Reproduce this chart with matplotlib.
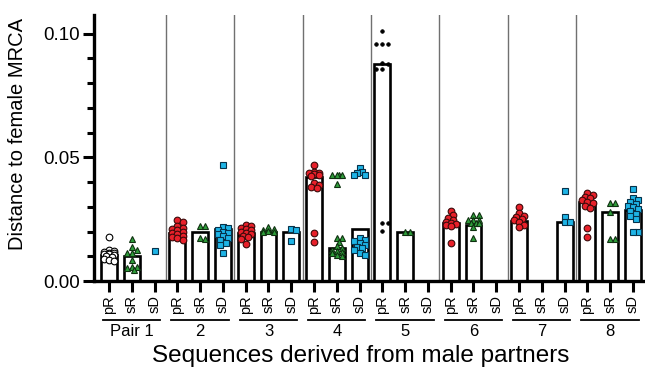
import numpy as np
import matplotlib
matplotlib.use("Agg")
import matplotlib.pyplot as plt
from matplotlib.ticker import MultipleLocator
import matplotlib.transforms as mtransforms

plt.rcParams['font.family'] = ['Liberation Sans', 'DejaVu Sans']

groups = ["Pair 1", "2", "3", "4", "5", "6", "7", "8"]
subtypes = ["pR", "sR", "sD"]

pR = [
    [0.0177, 0.0125, 0.0122, 0.0118, 0.0115, 0.0112, 0.0110, 0.0108, 0.0105, 0.0100, 0.0095, 0.0090, 0.0085, 0.0080],
    [0.0246, 0.0240, 0.0222, 0.0214, 0.0210, 0.0205, 0.0200, 0.0196, 0.0190, 0.0182, 0.0178, 0.0172, 0.0165],
    [0.0226, 0.0222, 0.0214, 0.0210, 0.0205, 0.0198, 0.0194, 0.0188, 0.0180, 0.0177, 0.0170, 0.0150],
    [0.0468, 0.0440, 0.0437, 0.0435, 0.0433, 0.0430, 0.0423, 0.0395, 0.0387, 0.0378, 0.0375, 0.0194, 0.0157],
    [0.1012, 0.0956, 0.0956, 0.0956, 0.0883, 0.0875, 0.0855, 0.0855, 0.0234, 0.0234, 0.0202],
    [0.0282, 0.0266, 0.0254, 0.0246, 0.0238, 0.0234, 0.0230, 0.0226, 0.0222, 0.0153],
    [0.0298, 0.0274, 0.0262, 0.0258, 0.0250, 0.0246, 0.0238, 0.0226, 0.0218],
    [0.0355, 0.0347, 0.0340, 0.0335, 0.0328, 0.0320, 0.0315, 0.0305, 0.0294, 0.0214, 0.0177],
]
sR = [
    [0.0170, 0.0137, 0.0125, 0.0113, 0.0113, 0.0085, 0.0058, 0.0056, 0.0054, 0.0044],
    [0.0222, 0.0222, 0.0172, 0.0168],
    [0.0218, 0.0212, 0.0206, 0.0204, 0.0200, 0.0198],
    [0.0427, 0.0427, 0.0427, 0.0427, 0.0390, 0.0173, 0.0173, 0.0157, 0.0140, 0.0133,
     0.0127, 0.0122, 0.0117, 0.0112, 0.0106, 0.0100],
    [0.0200, 0.0200],
    [0.0266, 0.0266, 0.0246, 0.0246, 0.0246, 0.0234, 0.0234, 0.0234, 0.0218, 0.0173],
    [],
    [0.0315, 0.0315, 0.0278, 0.0169, 0.0169],
]
sD = [
    [0.0121],
    [0.0468, 0.0218, 0.0214, 0.0205, 0.0200, 0.0195, 0.0190, 0.0180, 0.0172, 0.0165, 0.0155, 0.0145, 0.0113],
    [0.0210, 0.0206, 0.0160],
    [0.0456, 0.0440, 0.0435, 0.0430, 0.0427, 0.0173, 0.0165, 0.0160, 0.0152, 0.0145,
     0.0138, 0.0132, 0.0125, 0.0115, 0.0105],
    [],
    [],
    [0.0363, 0.0258, 0.0238, 0.0238],
    [0.0371, 0.0335, 0.0327, 0.0320, 0.0312, 0.0305, 0.0298, 0.0290, 0.0282, 0.0272,
     0.0262, 0.0250, 0.0198, 0.0198],
]

# bar heights (medians)
pR_bar = [0.0106, 0.0192, 0.0194, 0.0421, 0.0877, 0.0234, 0.0244, 0.0319]
sR_bar = [0.0103, 0.0198, 0.0200, 0.0133, 0.0198, 0.0226, np.nan, 0.0278]
sD_bar = [np.nan, 0.0212, 0.0200, 0.0212, np.nan, np.nan, 0.0240, 0.0286]

W, H = 645, 373
fig = plt.figure(figsize=(W / 100, H / 100), dpi=100)
ax_l, ax_b, ax_r, ax_t = 94, 281, 645, 15
ax = fig.add_axes([ax_l / W, (H - ax_b) / H, (ax_r - ax_l) / W, (ax_b - ax_t) / H])

xmin, xmax = -0.66, 23.53
ymin, ymax = 0.0, 0.1075
ax.set_xlim(xmin, xmax)
ax.set_ylim(ymin, ymax)
xs = (ax_r - ax_l) / (xmax - xmin)
ys = (ax_b - ax_t) / (ymax - ymin)

red = "#E8202A"
green = "#2E9E3A"
blue = "#1EB4E6"


def swarm(vals, d_px, maxoff=0.30):
    order = np.argsort(vals)[::-1]
    placed = []
    offs = np.zeros(len(vals))
    step = d_px * 0.6 / xs
    for i in order:
        y = vals[i] * ys
        cands = [0.0]
        for k in range(1, 12):
            cands += [k * step, -k * step]
        cands = [c for c in cands if abs(c) <= maxoff]
        best = None
        bestpen = None
        for c in cands:
            pen = 0.0
            for (px, py) in placed:
                dist = np.hypot((c - px) * xs, y - py)
                if dist < d_px:
                    pen += d_px - dist
            if pen == 0.0:
                best = c
                break
            if bestpen is None or pen < bestpen:
                bestpen, best = pen, c
        offs[i] = best
        placed.append((best, y))
    return offs


series = [pR, sR, sD]
bars = [pR_bar, sR_bar, sD_bar]
styles = [
    dict(marker="o", mfc=red, mec="#3a0a0a", ms=4.8, mew=0.8),
    dict(marker="^", mfc=green, mec="#0f3010", ms=4.8, mew=0.8),
    dict(marker="s", mfc=blue, mec="#06324a", ms=4.5, mew=0.8),
]

positions = []
for gi in range(len(groups)):
    for si in range(3):
        x = gi * 3 + si
        positions.append(x)
        h = bars[si][gi]
        if not np.isnan(h):
            ax.bar(x, h, width=0.7, color="white", edgecolor="black", linewidth=1.9, zorder=2)
        vals = np.array(series[si][gi], dtype=float)
        if len(vals) == 0:
            continue
        st = dict(styles[si])
        d_px = 4.3
        if si == 0 and gi == 0:
            st.update(mfc="white", mec="black")
        if si == 0 and gi == 4:
            st = dict(marker="o", mfc="black", mec="black", ms=2.6, mew=0.5)
            d_px = 5.0
        offs = swarm(vals, d_px)
        ax.plot(x + offs, vals, linestyle="none", zorder=3, clip_on=False, **st)

# group separators
for gi in range(1, len(groups)):
    ax.axvline(gi * 3 - 0.5, color="#707070", lw=1.0, zorder=1)

ax.spines["top"].set_visible(False)
ax.spines["right"].set_visible(False)
ax.spines["left"].set_linewidth(2.4)
ax.spines["bottom"].set_linewidth(2.4)

ax.set_xticks(positions)
ax.set_xticklabels(subtypes * len(groups), rotation=90, fontsize=10.5)
ax.tick_params(axis="x", length=8, width=2.2, pad=2)
ax.yaxis.set_major_locator(MultipleLocator(0.05))
ax.yaxis.set_minor_locator(MultipleLocator(0.01))
ax.set_yticks([0.0, 0.05, 0.10])
ax.set_yticklabels(["0.00", "0.05", "0.10"], fontsize=13.5)
ax.tick_params(axis="y", which="major", length=8, width=2.2, pad=2)
ax.tick_params(axis="y", which="minor", length=5, width=2.2)

trans = mtransforms.blended_transform_factory(ax.transData, ax.transAxes)
y_line = -(320 - ax_b) / (ax_b - ax_t)
y_lab = -(331 - ax_b) / (ax_b - ax_t)
for gi, g in enumerate(groups):
    x0 = gi * 3 - 0.27
    x1 = gi * 3 + 2 + 0.25
    ax.plot([x0, x1], [y_line, y_line], color="black", lw=1.3, transform=trans, clip_on=False)
    ax.text(gi * 3 + 1, y_lab, g, transform=trans, ha="center", va="center", fontsize=12)

fig.text(18 / W, 1 - 134 / H, "Distance to female MRCA", rotation=90,
         ha="center", va="center", fontsize=14.5)
fig.text(361 / W, 1 - 356 / H, "Sequences derived from male partners",
         ha="center", va="center", fontsize=17.5)

fig.savefig("out.png", dpi=100)
